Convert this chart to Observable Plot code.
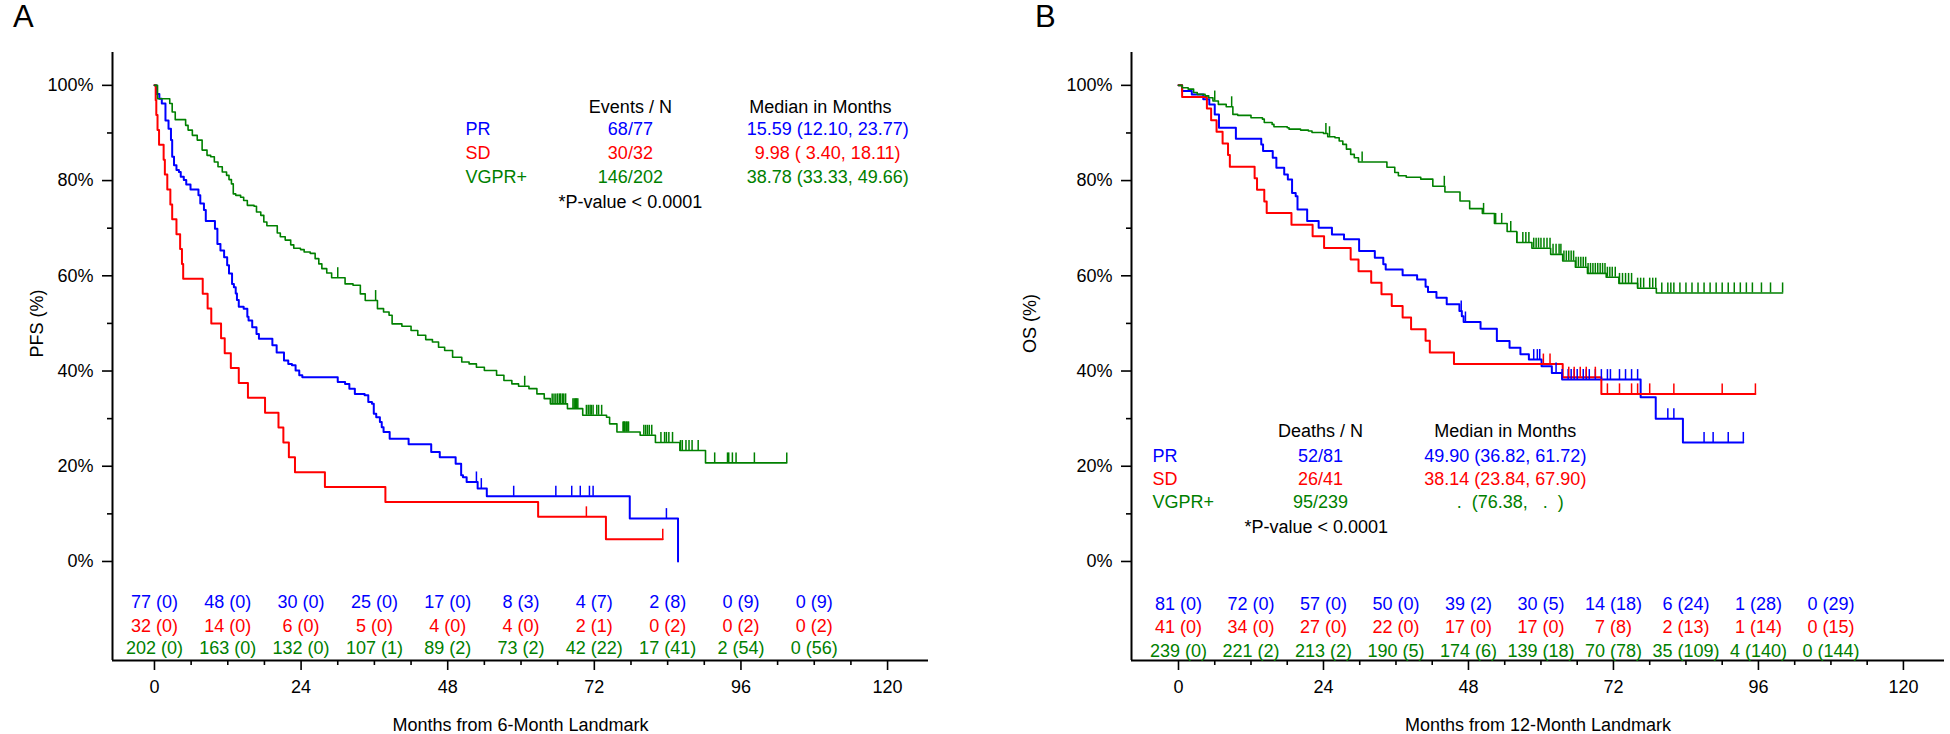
<!DOCTYPE html>
<html><head><meta charset="utf-8">
<script src="https://cdn.jsdelivr.net/npm/d3@7"></script>
<script src="https://cdn.jsdelivr.net/npm/@observablehq/plot@0.6"></script>
<style>
html,body{margin:0;padding:0;background:#fff;}
#wrap{position:relative;width:1950px;height:734px;overflow:hidden;font-family:"Liberation Sans",Arial,sans-serif;}
.panel{position:absolute;top:0;}
.letter{position:absolute;top:1px;font-size:31px;line-height:1;color:#000;font-family:"Liberation Sans",Arial,sans-serif;}
svg text{white-space:pre;}
</style></head>
<body><div id="wrap"></div>
<script>
// ---------- DATA ----------
const groups = ["PR", "SD", "VGPR+"];
const colors = ["#0000ff", "#ff0000", "#008000"];
const lineWidths = [2, 2, 1.6];
const majorTicks = [0, 24, 48, 72, 96, 120];
const riskTimes = [0, 12, 24, 36, 48, 60, 72, 84, 96, 108];

// Panel A (PFS) steps [month, survival %]
const aPR = [[0,100],[0.3,98.2],[0.8,97.2],[1.2,96.2],[1.8,92.6],[2.3,90.9],[2.7,88.5],[2.9,85.0],[3.2,83.2],[3.6,82.2],[4.0,81.8],[4.3,80.8],[4.8,80.1],[5.2,79.2],[5.9,78.1],[7.2,76.9],[7.5,75.2],[8.1,73.8],[8.4,71.5],[9.9,69.9],[10.3,66.7],[10.8,65.3],[11.4,63.9],[11.9,62.2],[12.2,60.5],[12.7,58.3],[13.0,57.6],[13.3,56.3],[13.5,54.9],[13.8,53.5],[14.6,53.1],[15.2,51.4],[15.4,50.6],[16.0,49.2],[16.7,47.8],[17.1,46.8],[19.3,45.4],[20.0,43.9],[21.2,42.2],[21.9,41.5],[22.5,41.2],[23.1,40.1],[23.7,39.1],[24.2,38.7],[30.0,37.7],[31.2,37.3],[31.9,36.3],[32.8,35.2],[34.4,34.9],[35.0,33.5],[35.6,33.1],[35.9,31.0],[36.3,30.3],[36.9,29.3],[37.2,28.2],[37.5,27.2],[38.5,25.8],[41.6,24.6],[45.3,23.0],[46.7,21.9],[49.3,20.5],[50.2,18.1],[50.5,17.7],[51.1,16.7],[52.9,15.3],[54.4,13.7],[77.8,9.0],[85.7,0]];
const aPRend = 85.7;
const aPRcens = [52.7,53.5,58.8,65.7,68.3,69.7,71.2,71.8,83.8];

const aSD = [[0,100],[0.2,96.875],[0.3,93.75],[0.5,90.625],[0.75,87.5],[1.5,84.375],[1.7,81.25],[2.1,78.125],[2.6,75],[2.9,71.875],[3.6,68.75],[4.2,65.625],[4.5,62.5],[4.7,59.375],[7.9,56.25],[8.7,53.125],[9.3,50],[10.9,46.875],[11.5,43.75],[12.5,40.625],[13.8,37.5],[15.3,34.375],[18.1,31.25],[20.3,28.125],[21.1,25],[22.0,21.875],[23.0,18.75],[27.9,15.625],[37.8,12.5],[62.8,9.375],[73.9,4.69]];
const aSDend = 83.2;
const aSDcens = [70.7, 83.2];

const aVG = [[0,100],[0.5,97.2],[2.5,96.2],[2.9,94.4],[3.4,92.8],[5.1,91.6],[5.5,90.6],[6.2,89.5],[7.0,88.5],[7.8,86.4],[8.6,85.3],[9.2,85.0],[9.8,83.9],[10.4,82.9],[11.1,81.8],[11.8,81.1],[12.2,80.2],[12.6,79.3],[12.9,77.2],[13.3,76.9],[14.1,76.5],[14.6,75.8],[15.2,74.8],[16.3,74.6],[16.7,73.4],[17.4,72.7],[17.9,71.3],[18.4,70.5],[20.1,69.0],[20.6,68.2],[21.4,67.5],[22.3,66.5],[22.8,65.8],[23.9,65.5],[24.5,65.0],[25.5,64.7],[26.3,63.6],[26.9,62.5],[27.4,61.5],[28.2,60.6],[29.0,59.6],[31.2,58.3],[32.5,58.0],[33.7,56.2],[34.5,54.8],[36.5,53.1],[37.5,52.4],[38.4,51.7],[38.9,49.9],[40.5,49.4],[42.0,48.5],[43.1,47.5],[44.4,46.6],[45.5,46.1],[46.5,45.0],[47.5,44.3],[48.8,42.9],[50.3,41.9],[51.5,41.5],[52.7,40.8],[54.0,40.1],[56.0,39.1],[57.2,38.0],[58.5,37.3],[59.6,36.8],[61.3,36.3],[62.6,35.2],[63.8,34.2],[64.8,33.1],[67.6,32.1],[70.1,30.7],[74.0,30.3],[74.5,28.9],[75.7,27.2],[79.5,26.5],[82.0,25.0],[86.0,23.3],[90.2,20.7]];
const aVGend = 103.5;
const aVGcens = [30.0,36.2,60.6,65.1,65.4,65.7,66.0,66.3,66.5,66.8,67.0,67.3,68.5,68.7,68.9,69.1,69.3,70.7,71.0,71.3,71.5,71.8,72.4,72.7,73.2,76.7,76.8,76.9,77.0,77.2,77.3,77.5,77.6,80.1,80.4,80.7,81.0,81.4,82.9,83.5,83.8,84.2,84.8,86.1,86.4,87.0,87.5,88.0,89.0,91.7,93.8,94.0,94.6,95.2,98.2,103.5];

// Panel B (OS) steps
const bPR = [[0,100],[0.6,98.8],[2.2,98.1],[4.1,97.1],[5.1,96.0],[6.0,93.9],[6.7,91.1],[9.5,88.8],[13.7,87.6],[14.0,86.2],[15.6,84.8],[16.2,82.7],[17.5,81.3],[18.1,80.2],[18.8,77.4],[19.4,76.7],[19.7,73.9],[21.3,71.5],[23.2,70.1],[25.4,68.7],[27.4,67.7],[29.9,65.2],[32.5,63.8],[33.9,62.4],[34.3,61.3],[37.1,60.1],[39.5,59.2],[40.9,57.7],[41.3,56.6],[42.7,55.4],[44.4,54.0],[46.5,52.6],[46.9,51.5],[47.2,50.3],[50.0,48.9],[52.7,46.3],[54.8,44.9],[56.6,43.5],[58.0,42.4],[60.1,41.0],[61.8,39.6],[63.5,38.2],[76.5,34.5],[79.0,30.0],[83.5,25.0]];
const bPRend = 93.5;
const bPRcens = [46.8,47.5,58.8,59.4,59.8,62.5,63.5,64.5,65.0,65.5,66.0,67.0,67.5,68.0,69.0,70.0,71.0,71.5,73,74,75,76,81,82,87,88.5,91,93.5];

const bSD = [[0,100],[0.6,97.56],[4.7,95.12],[5.4,92.68],[6.3,90.24],[7.3,87.80],[8.2,85.37],[8.5,82.93],[12.6,80.49],[13.0,78.05],[14.2,75.61],[14.6,73.17],[18.7,70.73],[22.2,68.29],[24.1,65.85],[28.5,63.41],[29.8,60.98],[31.9,58.54],[33.6,56.10],[35.3,53.66],[37.1,51.22],[38.5,48.78],[40.9,46.34],[41.6,43.90],[45.6,41.46],[63.6,38.7],[70.0,35.2]];
const bSDend = 95.5;
const bSDcens = [60.4,61.5,64.6,65.5,66.5,67.5,69,71,73,75,76,78,82,90,95.5];

const bVG = [[0,100],[0.6,99.5],[1.6,99.2],[2.5,98.5],[3.1,98.1],[4.4,97.8],[5.0,97.4],[5.7,96.7],[6.6,96.0],[7.9,95.5],[9.0,93.9],[9.8,93.7],[12.0,93.2],[13.9,92.9],[14.2,92.2],[15.5,91.8],[15.8,91.3],[18.0,91.1],[18.3,90.8],[20.2,90.6],[21.5,90.4],[22.1,90.1],[24.0,89.9],[24.7,89.2],[25.9,89.0],[26.6,88.3],[27.2,87.6],[27.8,86.6],[28.5,85.5],[29.1,84.8],[29.8,83.9],[34.5,82.8],[35.8,81.7],[36.4,81.0],[37.7,80.7],[40.1,80.3],[42.1,78.8],[44.1,77.6],[46.6,75.7],[48.2,74.1],[50.3,73.1],[52.3,71.0],[54.4,69.3],[56.0,67.0],[58.5,65.8],[61.6,64.5],[63.6,63.1],[65.7,61.8],[67.7,60.5],[70.8,59.7],[72.9,58.4],[76.0,57.4],[79.1,56.4]];
const bVGend = 100;
const bVGcens = [6.0,8.8,24.4,25.0,30.4,44.0,50.5,52.5,53.5,55.0,56.0,57.0,57.5,58.0,58.8,59.2,59.6,60.0,60.5,61,61.5,62,62.5,63,63.3,63.8,64.2,64.6,65,65.4,65.8,66.2,66.6,67,67.4,67.8,68.2,68.6,69,69.4,69.8,70.2,70.6,71,71.4,71.8,72.3,73,73.5,74,74.5,75,76,76.5,77,78,78.5,79,80,81,81.5,82,83,84,85,86,87,88,89,90,91,92,93,94,95,96.5,98,100];

// At-risk tables
const aRiskPR = ["77 (0)","48 (0)","30 (0)","25 (0)","17 (0)","8 (3)","4 (7)","2 (8)","0 (9)","0 (9)"];
const aRiskSD = ["32 (0)","14 (0)","6 (0)","5 (0)","4 (0)","4 (0)","2 (1)","0 (2)","0 (2)","0 (2)"];
const aRiskVG = ["202 (0)","163 (0)","132 (0)","107 (1)","89 (2)","73 (2)","42 (22)","17 (41)","2 (54)","0 (56)"];
const bRiskPR = ["81 (0)","72 (0)","57 (0)","50 (0)","39 (2)","30 (5)","14 (18)","6 (24)","1 (28)","0 (29)"];
const bRiskSD = ["41 (0)","34 (0)","27 (0)","22 (0)","17 (0)","17 (0)","7 (8)","2 (13)","1 (14)","0 (15)"];
const bRiskVG = ["239 (0)","221 (2)","213 (2)","190 (5)","174 (6)","139 (18)","70 (78)","35 (109)","4 (140)","0 (144)"];

// Legend statistics
const aEvents = ["68/77","30/32","146/202"];
const aMedians = ["15.59 (12.10, 23.77)","9.98 ( 3.40, 18.11)","38.78 (33.33, 49.66)"];
const bDeaths = ["52/81","26/41","95/239"];
const bMedians = ["49.90 (36.82, 61.72)","38.14 (23.84, 67.90)","  .  (76.38,   .  )"];

// ---------- HELPERS ----------
function survAt(steps, t) { let s = 100; for (const [tt, ss] of steps) if (tt <= t) s = ss; return s; }
function linePts(steps, end, g) { const p = steps.map(([t, s]) => ({t, s, g})); p.push({t: end, s: steps[steps.length - 1][1], g}); return p; }
function censPts(steps, cens, g) { return cens.map(t => ({t, s: survAt(steps, t), g})); }

const Y_DOMAIN = [-20.8, 106.9];
const CENS_H = 2.1;

function panel(cfg) {
  const lineMarks = [], cens = [];
  cfg.series.forEach(([steps, end, c], i) => {
    lineMarks.push(Plot.line(linePts(steps, end, i), {x: "t", y: "s", stroke: colors[i], curve: "step-after", strokeWidth: lineWidths[i]}));
    cens.push(...censPts(steps, c, i));
  });
  const risk = [];
  cfg.risk.forEach((row, i) => row.forEach((txt, j) => risk.push({t: riskTimes[j], y: cfg.riskY[i], txt, g: i})));
  const L = cfg.leg;
  const legRows = groups.map((name, i) => ({name, ev: cfg.events[i], med: cfg.medians[i], y: L.rows[i], g: i}));
  const minor = d3.range(6, 126, 6).filter(d => d % 24 !== 0);
  return Plot.plot({
    width: 975, height: 734,
    marginLeft: cfg.ml, marginRight: cfg.mr, marginTop: 52, marginBottom: 74,
    x: {domain: cfg.xd},
    y: {domain: Y_DOMAIN},
    color: {domain: [0, 1, 2], range: colors},
    style: {fontFamily: "'Liberation Sans', Arial, sans-serif", fontSize: "18px", color: "#000", background: "transparent", overflow: "visible"},
    marks: [
      Plot.axisX({ticks: majorTicks, tickSize: 10, tickPadding: 10, fontSize: 18, strokeWidth: 1.6, label: null}),
      Plot.axisX({ticks: minor, tickSize: 5, tickFormat: () => "", strokeWidth: 1.6, label: null}),
      Plot.axisY({ticks: [0, 20, 40, 60, 80, 100], tickSize: 10, tickPadding: 9, fontSize: 18, strokeWidth: 1.6, tickFormat: d => d + "%", label: null}),
      Plot.axisY({ticks: [10, 30, 50, 70, 90], tickSize: 5, tickFormat: () => "", strokeWidth: 1.6, label: null}),
      Plot.ruleX([cfg.xd[0]], {strokeWidth: 2}),
      Plot.ruleY([Y_DOMAIN[0]], {strokeWidth: 2}),
      Plot.text([cfg.xlabel], {frameAnchor: "bottom", dy: 65, fontSize: 18, lineAnchor: "middle"}),
      Plot.text([cfg.ylabel], {x: cfg.xd[0], y: 50, dx: cfg.ylabDx, rotate: -90, fontSize: 18}),
      ...lineMarks,
      Plot.ruleX(cens, {x: "t", y1: "s", y2: d => d.s + CENS_H, stroke: "g", strokeWidth: 1.5}),
      Plot.text(risk, {x: "t", y: "y", text: "txt", fill: "g", fontSize: 18}),
      Plot.text([cfg.evHeader], {x: L.ev, y: L.header, fontSize: 18}),
      Plot.text(["Median in Months"], {x: L.medH, y: L.header, fontSize: 18}),
      Plot.text(legRows, {x: L.label, y: "y", text: "name", fill: "g", textAnchor: "start", fontSize: 18}),
      Plot.text(legRows, {x: L.ev, y: "y", text: "ev", fill: "g", fontSize: 18}),
      Plot.text(legRows, {x: L.med, y: "y", text: "med", fill: "g", fontSize: 18}),
      Plot.text(["*P-value < 0.0001"], {x: L.p, y: L.py, fontSize: 18})
    ]
  });
}

const wrap = document.getElementById("wrap");
function place(node, left) { const d = document.createElement("div"); d.className = "panel"; d.style.left = left + "px"; d.appendChild(node); wrap.appendChild(d); }

place(panel({
  ml: 112, mr: 47, xd: [-6.87, 126.7],
  series: [[aPR, aPRend, aPRcens], [aSD, aSDend, aSDcens], [aVG, aVGend, aVGcens]],
  risk: [aRiskPR, aRiskSD, aRiskVG], riskY: [-8.6, -13.7, -18.3],
  xlabel: "Months from 6-Month Landmark", ylabel: "PFS (%)", ylabDx: -75,
  evHeader: "Events / N", events: aEvents, medians: aMedians,
  leg: {label: 50.9, ev: 77.9, med: 110.2, medH: 109.0, header: 95.4, rows: [90.8, 85.7, 80.7], p: 77.9, py: 75.4}
}), 0);

place(panel({
  ml: 156, mr: 6, xd: [-7.78, 126.8],
  series: [[bPR, bPRend, bPRcens], [bSD, bSDend, bSDcens], [bVG, bVGend, bVGcens]],
  risk: [bRiskPR, bRiskSD, bRiskVG], riskY: [-9.0, -13.9, -18.8],
  xlabel: "Months from 12-Month Landmark", ylabel: "OS (%)", ylabDx: -101,
  evHeader: "Deaths / N", events: bDeaths, medians: bMedians,
  leg: {label: -4.3, ev: 23.5, med: 54.1, medH: 54.1, header: 27.3, rows: [22.1, 17.2, 12.4], p: 22.8, py: 7.1}
}), 975);

for (const [txt, left] of [["A", 13], ["B", 1035]]) {
  const d = document.createElement("div"); d.className = "letter"; d.style.left = left + "px"; d.textContent = txt; wrap.appendChild(d);
}
</script></body></html>
